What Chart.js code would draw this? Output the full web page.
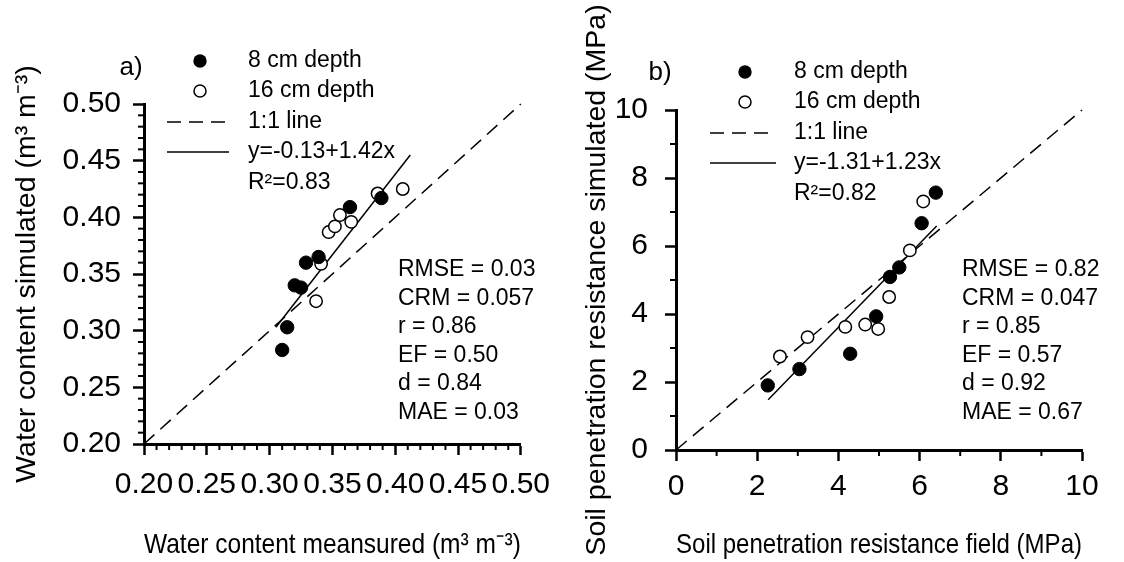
<!DOCTYPE html>
<html>
<head>
<meta charset="utf-8">
<script src="https://cdn.jsdelivr.net/npm/chart.js@4.4.0/dist/chart.umd.min.js"></script>
<style>
  html, body { margin: 0; padding: 0; background: #fff; }
  #wrap { position: relative; width: 1124px; height: 562px; }
  .panel { position: absolute; top: 0; width: 562px; height: 562px; }
</style>
</head>
<body>
<div id="wrap">
  <div class="panel" style="left:0"><canvas id="chartA" width="562" height="562"></canvas></div>
  <div class="panel" style="left:562px"><canvas id="chartB" width="562" height="562"></canvas></div>
</div>
<script>
// a) water content (m3 m-3)
const wcTicks = ['0.20', '0.25', '0.30', '0.35', '0.40', '0.45', '0.50'];
const wc8X  = [0.310, 0.314, 0.320, 0.325, 0.329, 0.339, 0.364, 0.389];
const wc8Y  = [0.283, 0.303, 0.340, 0.338, 0.360, 0.365, 0.409, 0.417];
const wc16X = [0.337, 0.341, 0.347, 0.352, 0.356, 0.365, 0.386, 0.406];
const wc16Y = [0.326, 0.359, 0.387, 0.392, 0.402, 0.396, 0.421, 0.425];
const wcFitX = [0.305, 0.412];
const wcFitY = [0.303, 0.455];
const wcOneToOne = [0.20, 0.50];
const wcLegend = ['8 cm depth', '16 cm depth', '1:1 line', 'y=-0.13+1.42x', 'R²=0.83'];
const wcStats = ['RMSE = 0.03', 'CRM = 0.057', 'r = 0.86', 'EF = 0.50', 'd = 0.84', 'MAE = 0.03'];

// b) soil penetration resistance (MPa)
const sprTicks = ['0', '2', '4', '6', '8', '10'];
const spr8X  = [2.26, 3.04, 4.29, 4.93, 5.27, 5.50, 6.05, 6.40];
const spr8Y  = [1.90, 2.38, 2.83, 3.93, 5.09, 5.37, 6.67, 7.57];
const spr16X = [2.56, 3.24, 4.17, 4.66, 4.98, 5.25, 5.76, 6.09];
const spr16Y = [2.75, 3.32, 3.62, 3.69, 3.56, 4.50, 5.87, 7.31];
const sprFitX = [2.27, 6.42];
const sprFitY = [1.48, 6.59];
const sprOneToOne = [0, 10];
const sprLegend = ['8 cm depth', '16 cm depth', '1:1 line', 'y=-1.31+1.23x', 'R²=0.82'];
const sprStats = ['RMSE = 0.82', 'CRM = 0.047', 'r = 0.85', 'EF = 0.57', 'd = 0.92', 'MAE = 0.67'];

const FONT = '"Liberation Sans", Arial, sans-serif';
const pts = (xs, ys) => xs.map((x, i) => ({ x: x, y: ys[i] }));

// small ticks between the labelled ones
const minorTicks = {
  id: 'minorTicks',
  afterDraw(chart, args, opts) {
    const ctx = chart.ctx;
    ctx.save();
    ctx.strokeStyle = '#000';
    ctx.lineWidth = 2;
    ['x', 'y'].forEach(id => {
      const sc = chart.scales[id];
      const step = opts[id];
      const n = Math.round((sc.max - sc.min) / step);
      const every = Math.round(sc.options.ticks.stepSize / step);
      for (let i = 0; i <= n; i++) {
        if (i % every === 0) continue;
        const p = sc.getPixelForValue(sc.min + i * step);
        ctx.beginPath();
        if (id === 'x') { ctx.moveTo(p, sc.top); ctx.lineTo(p, sc.top + opts.len); }
        else { ctx.moveTo(sc.right, p); ctx.lineTo(sc.right - opts.len, p); }
        ctx.stroke();
      }
    });
    ctx.restore();
  }
};

// panel letter, legend and statistics block
const panelText = {
  id: 'panelText',
  afterDraw(chart, args, o) {
    const ctx = chart.ctx;
    ctx.save();
    ctx.fillStyle = '#000';
    ctx.strokeStyle = '#000';
    ctx.textBaseline = 'middle';
    ctx.textAlign = 'center';
    ctx.font = '26px ' + FONT;
    ctx.fillText(o.tag, o.tagX, o.tagY);

    ctx.textAlign = 'left';
    ctx.font = '23px ' + FONT;
    const r = o.rows;
    // filled marker
    ctx.beginPath(); ctx.arc(o.markX, r[0], 6.7, 0, Math.PI * 2); ctx.fill();
    // open marker
    ctx.lineWidth = 1.5;
    ctx.beginPath(); ctx.arc(o.markX, r[1], 6, 0, Math.PI * 2); ctx.stroke();
    // dashed + solid samples
    ctx.beginPath(); ctx.setLineDash([14, 8]); ctx.moveTo(o.lineX0, r[2]); ctx.lineTo(o.lineX1, r[2]); ctx.stroke();
    ctx.setLineDash([]);
    ctx.beginPath(); ctx.moveTo(o.lineX0, r[3]); ctx.lineTo(o.lineX1, r[3]); ctx.stroke();
    o.labels.forEach((t, i) => ctx.fillText(t, o.textX, r[i]));

    o.stats.forEach((t, i) => ctx.fillText(t, o.statsX, o.statsY + i * o.statsDy));
    ctx.restore();
  }
};

function axis(min, max, step, labels, title, labelPad, titlePad, size) {
  return {
    type: 'linear',
    min: min,
    max: max,
    afterFit: s => { if (s.isHorizontal()) s.height = size; else s.width = size; },
    border: { display: true, color: '#000', width: 3 },
    grid: { drawOnChartArea: false, drawTicks: true, tickLength: 11, tickWidth: 2.5, tickColor: '#000' },
    ticks: {
      stepSize: step, color: '#000', padding: labelPad, autoSkip: false, maxRotation: 0,
      font: { size: 30, family: FONT },
      callback: (v, i) => labels[i]
    },
    title: { display: true, text: title, color: '#000', padding: titlePad, font: { size: 28.5, family: FONT } }
  };
}

function buildPanel(id, d) {
  return new Chart(document.getElementById(id), {
    type: 'scatter',
    data: {
      datasets: [
        { label: d.legend[0], data: pts(d.x8, d.y8), pointRadius: 6.7, pointBackgroundColor: '#000', pointBorderColor: '#000', pointBorderWidth: 1, order: 0 },
        { label: d.legend[1], data: pts(d.x16, d.y16), pointRadius: 6.2, pointBackgroundColor: '#fff', pointBorderColor: '#000', pointBorderWidth: 1.5, order: 1 },
        { label: d.legend[3], data: pts(d.fitX, d.fitY), showLine: true, pointRadius: 0, borderColor: '#000', borderWidth: 1.5, order: 2 },
        { label: d.legend[2], data: pts(d.one, d.one), showLine: true, pointRadius: 0, borderColor: '#000', borderWidth: 1.5, borderDash: [14, 8], order: 3 }
      ]
    },
    options: {
      responsive: false,
      animation: false,
      layout: { padding: d.pad },
      clip: false,
      plugins: {
        legend: { display: false },
        tooltip: { enabled: false },
        minorTicks: { x: d.minor, y: d.minor, len: 6 },
        panelText: d.text
      },
      scales: {
        x: axis(d.one[0], d.one[1], d.step, d.ticks, d.xTitle, d.xLabelPad, { top: 0, bottom: d.xTitlePad }, d.xSize),
        y: axis(d.one[0], d.one[1], d.step, d.ticks, d.yTitle, d.yLabelPad, { top: d.yTitlePad, bottom: 0 }, d.ySize)
      }
    },
    plugins: [minorTicks, panelText]
  });
}

Chart.defaults.font.family = FONT;

buildPanel('chartA', {
  x8: wc8X, y8: wc8Y, x16: wc16X, y16: wc16Y, fitX: wcFitX, fitY: wcFitY, one: wcOneToOne,
  ticks: wcTicks, step: 0.05, minor: 0.01, legend: wcLegend,
  xTitle: 'Water content meansured (m³ m⁻³)', yTitle: 'Water content simulated (m³ m⁻³)',
  pad: { top: 104, right: 30, bottom: 0, left: 0 }, xSize: 118, ySize: 144,
  xLabelPad: 12, yLabelPad: 12, xTitlePad: 0, yTitlePad: 10,
  text: {
    tag: 'a)', tagX: 131, tagY: 68, markX: 200, lineX0: 167, lineX1: 229, textX: 248,
    rows: [61, 91, 122, 152, 183], labels: wcLegend,
    stats: wcStats, statsX: 398, statsY: 270, statsDy: 28.5
  }
});

buildPanel('chartB', {
  x8: spr8X, y8: spr8Y, x16: spr16X, y16: spr16Y, fitX: sprFitX, fitY: sprFitY, one: sprOneToOne,
  ticks: sprTicks, step: 2, minor: 1, legend: sprLegend,
  xTitle: 'Soil penetration resistance field (MPa)', yTitle: 'Soil penetration resistance simulated (MPa)',
  pad: { top: 110, right: 42, bottom: 0, left: 0 }, xSize: 112, ySize: 114,
  xLabelPad: 8, yLabelPad: 17, xTitlePad: 0, yTitlePad: 18,
  text: {
    tag: 'b)', tagX: 98, tagY: 73, markX: 183, lineX0: 148, lineX1: 214, textX: 232,
    rows: [72, 102, 133, 163, 194], labels: sprLegend,
    stats: sprStats, statsX: 400, statsY: 270, statsDy: 28.5
  }
});
</script>
</body>
</html>
